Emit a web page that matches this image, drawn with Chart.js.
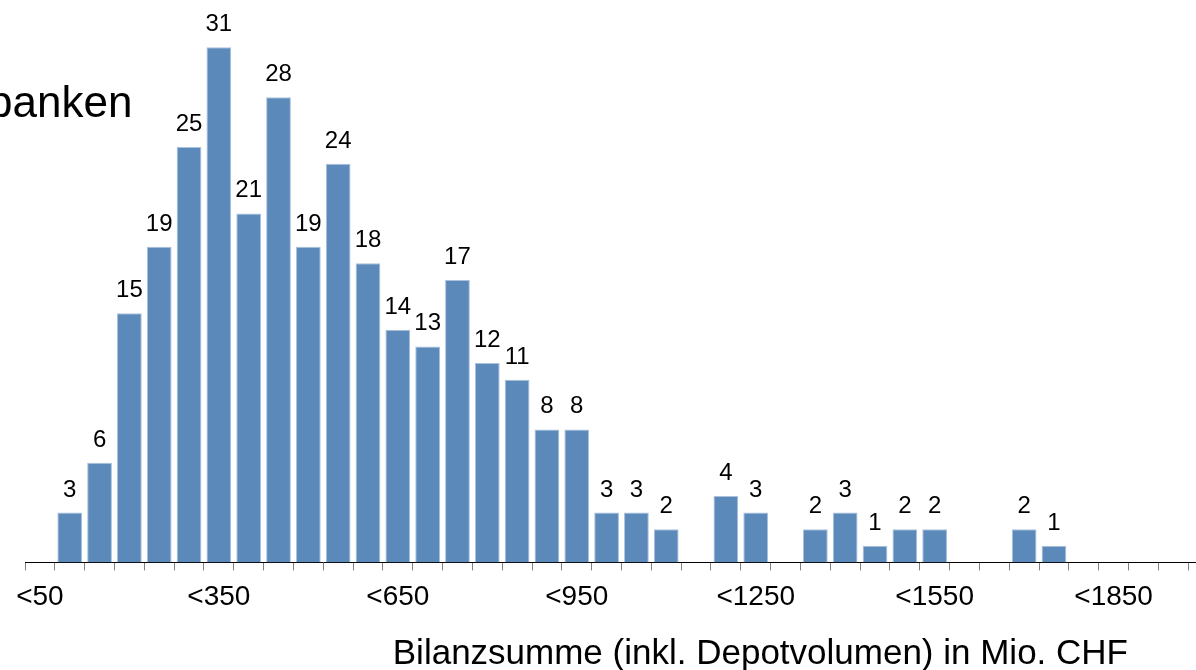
<!DOCTYPE html>
<html>
<head>
<meta charset="utf-8">
<script src="https://cdn.jsdelivr.net/npm/chart.js@4.4.1/dist/chart.umd.min.js"></script>
<style>
  html, body { margin: 0; padding: 0; background: #fff; }
  #page { position: relative; width: 1196px; height: 670px; overflow: hidden; font-family: "Liberation Sans", Arial, sans-serif; color: #000; }
  #chartBox { position: absolute; left: 0; top: 0; width: 1218px; height: 670px; }
  #heading { position: absolute; left: -12px; top: 80px; font-size: 44px; line-height: 44px; white-space: nowrap; }
  #xTitle { position: absolute; right: 68px; top: 634px; font-size: 35px; line-height: 35px; white-space: nowrap; }
</style>
</head>
<body>
<div id="page">
  <div id="chartBox"><canvas id="chart"></canvas></div>
  <div id="heading">banken</div>
  <div id="xTitle">Bilanzsumme (inkl. Depotvolumen) in Mio. CHF</div>
</div>
<script>
// Size classes: upper bound of total assets in Mio. CHF, steps of 50
const classLimits = [50, 100, 150, 200, 250, 300, 350, 400, 450, 500,
                     550, 600, 650, 700, 750, 800, 850, 900, 950, 1000,
                     1050, 1100, 1150, 1200, 1250, 1300, 1350, 1400, 1450, 1500,
                     1550, 1600, 1650, 1700, 1750, 1800, 1850, 1900, 1950, 2000];
const categories = classLimits.map(v => '<' + v);

// Number of banks per size class
const bankCounts = [0, 3, 6, 15, 19, 25, 31, 21, 28, 19,
                    24, 18, 14, 13, 17, 12, 11, 8, 8, 3,
                    3, 2, 0, 4, 3, 0, 2, 3, 1, 2,
                    2, 0, 0, 2, 1, 0, 0, 0, 0, 0];

// Only every sixth class gets a visible axis label
const labelEvery = 6;

const FONT = '"Liberation Sans", Arial, sans-serif';

// Writes the count above each non-empty bar
const valueLabels = {
  id: 'valueLabels',
  afterDatasetsDraw(chart) {
    const ctx = chart.ctx;
    const meta = chart.getDatasetMeta(0);
    ctx.save();
    ctx.font = '24px ' + FONT;
    ctx.fillStyle = '#000';
    ctx.textAlign = 'center';
    ctx.textBaseline = 'alphabetic';
    meta.data.forEach((bar, i) => {
      const v = bankCounts[i];
      if (!v) return;
      ctx.fillText(String(v), bar.x, bar.y - 16);
    });
    ctx.restore();
  }
};

new Chart(document.getElementById('chart'), {
  type: 'bar',
  data: {
    labels: categories,
    datasets: [{
      data: bankCounts,
      backgroundColor: '#5b89b9',
      borderColor: '#a9c1dd',
      borderWidth: 1,
      categoryPercentage: 1.0,
      barPercentage: 0.83
    }]
  },
  options: {
    responsive: true,
    maintainAspectRatio: false,
    animation: false,
    layout: { padding: { left: 25, right: 0, top: 0, bottom: 46 } },
    plugins: {
      legend: { display: false },
      tooltip: { enabled: false },
      title: { display: false }
    },
    scales: {
      x: {
        grid: {
          display: true,
          drawOnChartArea: false,
          drawTicks: true,
          tickLength: 8,
          color: '#808080',
          lineWidth: 1
        },
        border: { display: true, color: '#000', width: 1 },
        ticks: {
          autoSkip: false,
          maxRotation: 0,
          minRotation: 0,
          padding: 10,
          color: '#000',
          font: { family: FONT, size: 28 },
          callback: (value, index) => (index % labelEvery === 0 ? categories[index] : '')
        }
      },
      y: {
        display: false,
        min: 0,
        max: 33.85
      }
    }
  },
  plugins: [valueLabels]
});
</script>
</body>
</html>
